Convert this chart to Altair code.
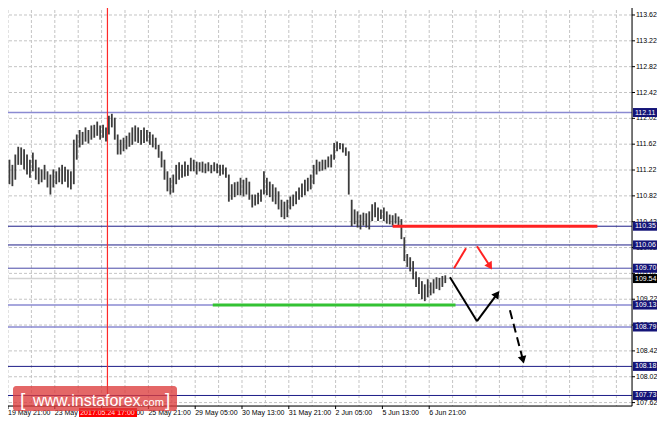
import altair as alt
import pandas as pd

# ---------------- data ----------------
# H1 bars, sampled every 2 bars (bar index 0 = 19 May 21:00)
bars = list(range(-5, 300, 2))
highs = [
    111.54, 111.61, 111.46, 111.38, 111.30, 111.46, 111.58, 111.57, 111.54, 111.46,
    111.38, 111.49, 111.38, 111.26, 111.23, 111.30, 111.20, 111.15, 111.23, 111.20,
    111.26, 111.30, 111.27, 111.23, 111.20, 111.69, 111.77, 111.84, 111.81, 111.88,
    111.84, 111.91, 111.92, 111.97, 111.91, 111.92, 111.88, 112.06, 112.09, 112.03,
    111.77, 111.69, 111.72, 111.75, 111.80, 111.88, 111.91, 111.88, 111.84, 111.88,
    111.84, 111.81, 111.77, 111.72, 111.61, 111.51, 111.38, 111.20, 111.10, 111.15,
    111.30, 111.34, 111.30, 111.35, 111.30, 111.41, 111.38, 111.35, 111.34, 111.35,
    111.32, 111.34, 111.30, 111.34, 111.32, 111.30, 111.30, 111.26, 111.15, 111.00,
    111.03, 111.04, 111.10, 111.07, 111.10, 111.04, 110.84, 110.84, 110.87, 110.92,
    111.20, 111.10, 111.04, 111.00, 110.95, 110.89, 110.76, 110.73, 110.76, 110.81,
    110.84, 110.89, 110.95, 111.01, 111.07, 111.10, 111.15, 111.30, 111.38, 111.35,
    111.38, 111.38, 111.43, 111.46, 111.64, 111.66, 111.64, 111.63, 111.57, 111.51,
    110.76, 110.61, 110.58, 110.53, 110.56, 110.55, 110.58, 110.69, 110.72, 110.64,
    110.61, 110.64, 110.58, 110.53, 110.52, 110.55, 110.50, 110.46, 110.18, 109.92,
    109.87, 109.81, 109.65, 109.56, 109.50, 109.45, 109.53, 109.48, 109.53, 109.56,
    109.55, 109.58, 109.59,
]
lows = [
    111.07, 111.20, 111.07, 111.00, 110.97, 111.07, 111.30, 111.30, 111.23, 111.15,
    111.10, 111.20, 111.07, 111.00, 111.03, 111.07, 110.95, 110.84, 110.95, 111.00,
    111.03, 111.00, 111.04, 110.95, 110.92, 111.00, 111.38, 111.57, 111.61, 111.66,
    111.63, 111.69, 111.72, 111.75, 111.69, 111.72, 111.66, 111.77, 111.88, 111.69,
    111.46, 111.46, 111.51, 111.54, 111.58, 111.61, 111.66, 111.64, 111.61, 111.64,
    111.66, 111.61, 111.57, 111.54, 111.41, 111.26, 111.07, 110.89, 110.84, 110.87,
    111.00, 111.07, 111.10, 111.12, 111.13, 111.20, 111.20, 111.15, 111.20, 111.18,
    111.17, 111.20, 111.17, 111.20, 111.17, 111.13, 111.15, 111.10, 110.73, 110.76,
    110.80, 110.83, 110.83, 110.81, 110.84, 110.76, 110.64, 110.67, 110.69, 110.73,
    110.84, 110.83, 110.80, 110.73, 110.69, 110.61, 110.49, 110.46, 110.49, 110.61,
    110.66, 110.69, 110.76, 110.80, 110.83, 110.89, 110.92, 111.00, 111.15, 111.20,
    111.21, 111.23, 111.26, 111.26, 111.38, 111.51, 111.54, 111.49, 111.44, 110.84,
    110.35, 110.38, 110.33, 110.30, 110.36, 110.33, 110.30, 110.43, 110.49, 110.43,
    110.46, 110.43, 110.39, 110.38, 110.36, 110.39, 110.35, 110.15, 109.81, 109.72,
    109.65, 109.53, 109.41, 109.30, 109.22, 109.19, 109.25, 109.28, 109.31, 109.38,
    109.36, 109.41, 109.47,
]

price_ticks = [113.62, 113.22, 112.82, 112.42, 112.02, 111.62, 111.22, 110.82,
               110.42, 110.02, 109.62, 109.22, 108.82, 108.42, 108.02, 107.62]
time_ticks = [0, 32, 64, 96, 128, 160, 192, 224, 256, 288]
time_labels = ["19 May 21:00", "23 May 05:00", "24 May 13:00", "25 May 21:00",
               "29 May 05:00", "30 May 13:00", "31 May 21:00", "2 Jun 05:00",
               "5 Jun 13:00", "6 Jun 21:00"]
grid_bars = [0, 16, 32, 48, 64, 80, 96, 112, 128, 144, 160, 176, 192, 208,
             224, 240, 256, 272, 288, 304, 320, 336, 352, 368, 384, 400, 416]

dark_levels = [110.35, 110.06, 108.18, 107.73]
mid_levels = [109.70]
light_levels = [112.11, 109.13, 108.79]
current_price = 109.54

cursor_bar = 68
cursor_label = "2017.05.24 17:00"

resist_price, resist_from, resist_to = 110.35, 263, 403
support_price, support_from, support_to = 109.13, 140, 306

red_seg_bars = [305.0, 313.2]
red_seg_prices = [109.70, 110.01]
red_arrow_bars = [320.7, 329.6]
red_arrow_prices = [110.04, 109.73]
black_seg_bars = [302.2, 320.7]
black_seg_prices = [109.56, 108.88]
black_arrow_bars = [320.7, 334.4]
black_arrow_prices = [108.88, 109.30]
dash_arrow_bars = [343.2, 352.1]
dash_arrow_prices = [109.05, 108.28]

# ---------------- chart ----------------
FONT = "Liberation Sans"
W, H = 632, 406
xs = alt.Scale(domain=[-5.47, 426.67], nice=False, zero=False)
ys = alt.Scale(domain=[107.567, 113.852], nice=False, zero=False)
one = pd.DataFrame({"k": [0]})

X = lambda f: alt.X(f, scale=xs, axis=None)
Y = lambda f: alt.Y(f, scale=ys, axis=None)

# --- grid, frame, tick labels (drawn as marks on the shared scales) ---
ptick_df = pd.DataFrame({"price": price_ticks})
ttick_df = pd.DataFrame({"bar": time_ticks, "label": time_labels})
hgrid = alt.Chart(ptick_df).mark_rule(color="#c4c4c4", strokeDash=[3, 2], strokeWidth=1).encode(
    y=Y("price:Q"))
vgrid = alt.Chart(pd.DataFrame({"bar": grid_bars})).mark_rule(
    color="#c4c4c4", strokeDash=[3, 2], strokeWidth=1).encode(x=X("bar:Q"))
frame_r = alt.Chart(one).mark_rule(color="#000000", strokeWidth=1).encode(
    x=alt.value(W), y=alt.value(0), y2=alt.value(H))
frame_b = alt.Chart(one).mark_rule(color="#000000", strokeWidth=1).encode(
    x=alt.value(0), x2=alt.value(W), y=alt.value(H))
yticks = alt.Chart(ptick_df).mark_rule(color="#000000", strokeWidth=1).encode(
    x=alt.value(W), x2=alt.value(W + 3), y=Y("price:Q"))
ylabels = alt.Chart(ptick_df).mark_text(align="left", baseline="middle", font=FONT,
                                        fontSize=7, color="#000000").encode(
    x=alt.value(W + 4), y=Y("price:Q"), text=alt.Text("price:Q", format=".2f"))
xticks = alt.Chart(ttick_df).mark_rule(color="#000000", strokeWidth=1).encode(
    x=X("bar:Q"), y=alt.value(H), y2=alt.value(H + 3))
xlabels = alt.Chart(ttick_df).mark_text(align="left", baseline="top", font=FONT,
                                        fontSize=7, color="#000000").encode(
    x=X("bar:Q"), y=alt.value(H + 3), text="label:N")

# --- price levels ---
def hlines(levels, color, width):
    return alt.Chart(pd.DataFrame({"price": levels})).mark_rule(
        color=color, strokeWidth=width).encode(y=Y("price:Q"))

lvl_dark = hlines(dark_levels, "#1e1e88", 1)
lvl_mid = hlines(mid_levels, "#4a4aa8", 1)
lvl_light = hlines(light_levels, "#8a8ad2", 1.6)
cur_line = hlines([current_price], "#d2d2d2", 1.5)

cursor = alt.Chart(pd.DataFrame({"bar": [cursor_bar]})).mark_rule(
    color="#ff2a2a", strokeWidth=1.2).encode(x=X("bar:Q"))

bars_df = pd.DataFrame({"bar": bars, "high": highs, "low": lows})
price_bars = alt.Chart(bars_df).mark_rule(color="#3c3c3c", strokeWidth=1.8).encode(
    x=X("bar:Q"), y=Y("low:Q"), y2="high:Q")

def hseg(price, b0, b1, color):
    return alt.Chart(pd.DataFrame({"price": [price], "b0": [b0], "b1": [b1]})).mark_rule(
        color=color, strokeWidth=3).encode(x=X("b0:Q"), x2="b1:Q", y=Y("price:Q"))

resist = hseg(resist_price, resist_from, resist_to, "#ff2222")
support = hseg(support_price, support_from, support_to, "#33c233")

def seg(bx, py, color, dash=None):
    kw = dict(color=color, strokeWidth=2)
    if dash:
        kw["strokeDash"] = dash
    return alt.Chart(pd.DataFrame({"bar": bx, "price": py, "o": [0, 1]})).mark_line(**kw).encode(
        x=X("bar:Q"), y=Y("price:Q"), order="o:Q")

def head(bx, py, color, angle):
    return alt.Chart(pd.DataFrame({"bar": [bx[-1]], "price": [py[-1]]})).mark_point(
        shape="triangle-up", filled=True, size=75, angle=angle, color=color,
        opacity=1, strokeWidth=0).encode(x=X("bar:Q"), y=Y("price:Q"))

arrows = [
    seg(red_seg_bars, red_seg_prices, "#ff2222"),
    seg(red_arrow_bars, red_arrow_prices, "#ff2222"),
    head(red_arrow_bars, red_arrow_prices, "#ff2222", 148),
    seg(black_seg_bars, black_seg_prices, "#000000"),
    seg(black_arrow_bars, black_arrow_prices, "#000000"),
    head(black_arrow_bars, black_arrow_prices, "#000000", 36),
    seg(dash_arrow_bars, dash_arrow_prices, "#000000", [9, 5]),
    head(dash_arrow_bars, dash_arrow_prices, "#000000", 166),
]

# --- price boxes on the right scale ---
BOX = "M-1,-0.375L1,-0.375L1,0.375L-1,0.375Z"
def boxes(levels, color):
    df = pd.DataFrame({"price": levels})
    b = alt.Chart(df).mark_point(shape=BOX, size=576, filled=True, opacity=1,
                                 color=color, strokeWidth=0).encode(
        x=alt.value(W + 13), y=Y("price:Q"))
    t = alt.Chart(df).mark_text(align="left", baseline="middle", color="#ffffff",
                                font=FONT, fontSize=7).encode(
        x=alt.value(W + 3), y=Y("price:Q"), text=alt.Text("price:Q", format=".2f"))
    return [b, t]

level_boxes = boxes(dark_levels + mid_levels + light_levels, "#141478")
cur_box = boxes([current_price], "#000000")

cursor_box = alt.Chart(one).mark_rect(color="#ff0000").encode(
    x=alt.value(79), x2=alt.value(137), y=alt.value(H + 2), y2=alt.value(H + 11))
cursor_text = alt.Chart(pd.DataFrame({"bar": [cursor_bar], "t": [cursor_label]})).mark_text(
    align="center", baseline="middle", color="#ffdede", font=FONT, fontSize=7).encode(
    x=X("bar:Q"), y=alt.value(H + 6.5), text="t:N")

# --- watermark ---
wm_box = alt.Chart(one).mark_rect(color="#dc3c3c", opacity=0.78, cornerRadius=3).encode(
    x=alt.value(13), x2=alt.value(177), y=alt.value(386), y2=alt.value(411))
def wtext(s, x, size):
    return alt.Chart(pd.DataFrame({"t": [s]})).mark_text(
        align="left", baseline="alphabetic", color="#ffffff", font=FONT,
        fontSize=size).encode(x=alt.value(x), y=alt.value(406), text="t:N")
wm_texts = [wtext("[", 20, 19), wtext("www.instaforex", 33, 16),
            wtext(".com", 140, 11), wtext("]", 165, 19)]

chart = alt.layer(
    hgrid, vgrid, lvl_dark, lvl_mid, lvl_light, cur_line, cursor, price_bars, resist,
    support, *arrows, frame_r, frame_b, yticks, ylabels, xticks, xlabels,
    *level_boxes, *cur_box, cursor_box, cursor_text, wm_box, *wm_texts
).properties(
    width=W, height=H,
    padding={"left": -8, "top": -8, "right": 25, "bottom": 17},
    autosize=alt.AutoSizeParams(type="none"),
).configure_view(strokeWidth=0, stroke="transparent").configure(background="#ffffff")

chart.save("out.html", embed_options={"renderer": "svg", "actions": False})
